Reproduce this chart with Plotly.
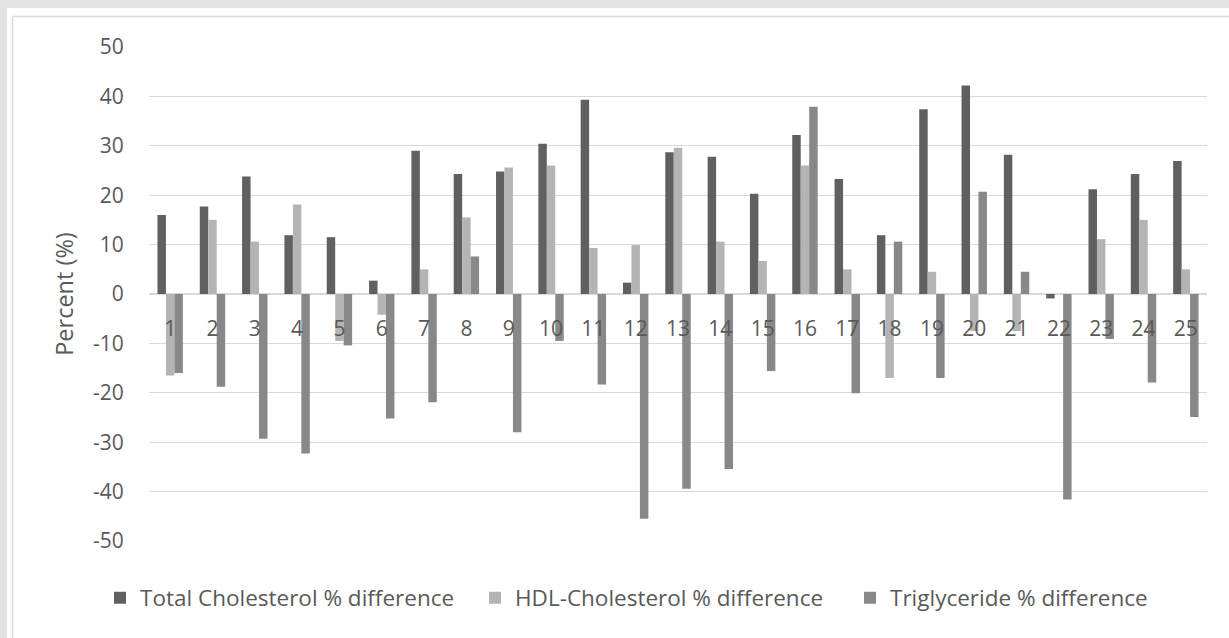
import plotly.graph_objects as go

categories = [str(i) for i in range(1, 26)]
total_chol = [16.0, 17.7, 23.8, 11.9, 11.5, 2.7, 29.0, 24.3, 24.8, 30.4, 39.3, 2.3, 28.7,
              27.8, 20.3, 32.2, 23.3, 11.9, 37.4, 42.2, 28.2, -0.9, 21.2, 24.3, 26.9]
hdl_chol = [-16.5, 15.0, 10.6, 18.1, -9.5, -4.2, 5.0, 15.5, 25.6, 26.0, 9.3, 9.9, 29.6,
            10.6, 6.7, 26.0, 5.0, -17.0, 4.5, -7.5, -7.5, 0.0, 11.1, 15.0, 5.0]
triglyceride = [-16.0, -18.8, -29.3, -32.3, -10.4, -25.2, -21.9, 7.6, -28.0, -9.5, -18.3, -45.5, -39.4,
                -35.4, -15.6, 37.9, -20.1, 10.6, -17.0, 20.7, 4.5, -41.6, -9.1, -17.9, -24.9]
series_names = ["Total Cholesterol % difference", "HDL-Cholesterol % difference",
                "Triglyceride % difference"]
y_ticks = list(range(-50, 51, 10))
y_tick_text = [str(v) for v in y_ticks]

W, H = 1229, 638
L, R, T, B = 149, 22, 47, 97
FONT = "Open Sans"
FS = 21
TXT = "#595959"

fig = go.Figure()
for name, vals, col in zip(series_names, [total_chol, hdl_chol, triglyceride],
                           ["#606060", "#b4b4b4", "#888888"]):
    fig.add_trace(go.Bar(x=categories, y=vals, name=name, marker_color=col,
                         marker_line_width=0))

def px_x(p):
    return (p - L) / (W - L - R)

def px_y(p):
    return (H - B - p) / (H - T - B)

shapes = [
    dict(type="rect", xref="paper", yref="paper", x0=px_x(0), x1=px_x(W), y0=px_y(0), y1=px_y(8),
         fillcolor="#e3e3e3", line_width=0, layer="below"),
    dict(type="rect", xref="paper", yref="paper", x0=px_x(0), x1=px_x(7), y0=px_y(0), y1=px_y(H),
         fillcolor="#e3e3e3", line_width=0, layer="below"),
    dict(type="line", xref="paper", yref="paper", x0=px_x(12.5), x1=px_x(W), y0=px_y(16.5), y1=px_y(16.5),
         line=dict(color="#d9d9d9", width=1.5), layer="below"),
    dict(type="line", xref="paper", yref="paper", x0=px_x(12.5), x1=px_x(12.5), y0=px_y(16.5), y1=px_y(H),
         line=dict(color="#d9d9d9", width=1.5), layer="below"),
]

fig.update_layout(
    width=W, height=H, autosize=False,
    margin=dict(l=L, r=R, t=T, b=B, pad=0),
    paper_bgcolor="white", plot_bgcolor="white",
    barmode="group", bargap=0.4, bargroupgap=0,
    font=dict(family=FONT, size=FS, color=TXT),
    shapes=shapes,
    showlegend=True,
    legend=dict(orientation="h", x=px_x(100), xanchor="left", y=px_y(598), yanchor="middle",
                font=dict(family=FONT, size=22.5, color=TXT), itemsizing="constant",
                traceorder="normal", itemwidth=30, entrywidth=330, entrywidthmode="pixels"),
    xaxis=dict(type="category", anchor="free", position=0.5, showgrid=False, showline=False,
               zeroline=False, ticks="outside", ticklen=16, tickcolor="rgba(0,0,0,0)",
               tickfont=dict(family=FONT, size=FS, color=TXT)),
    yaxis=dict(range=[-50, 50], tickvals=y_ticks, ticktext=y_tick_text,
               showgrid=True, gridcolor="#d9d9d9", gridwidth=1,
               zeroline=True, zerolinecolor="#d9d9d9", zerolinewidth=1.5, showline=False,
               ticks="outside", ticklen=20, tickcolor="rgba(0,0,0,0)",
               tickfont=dict(family=FONT, size=FS, color=TXT),
               title=dict(text="Percent (%)", standoff=12, font=dict(family=FONT, size=23.5, color=TXT))),
)

fig.write_html("out.html")
